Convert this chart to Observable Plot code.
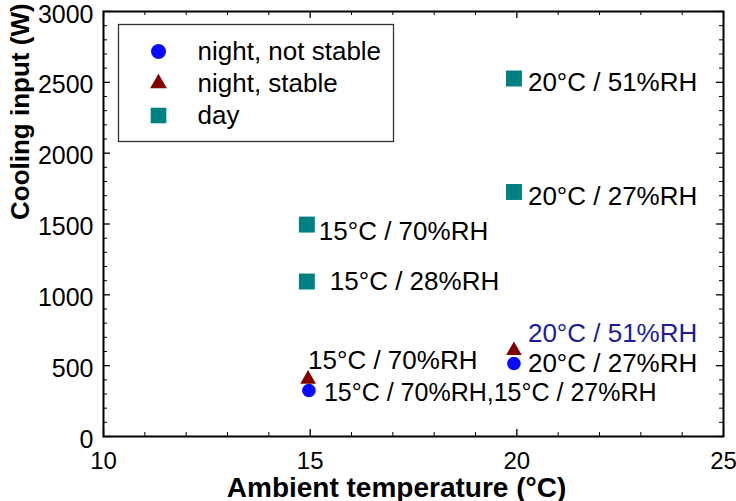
<!DOCTYPE html>
<html><head><meta charset="utf-8">
<script src="https://cdn.jsdelivr.net/npm/d3@7"></script>
<script src="https://cdn.jsdelivr.net/npm/@observablehq/plot@0.6"></script>
<style>body{margin:0;background:#fff}</style>
</head><body><div id="chart"></div>
<script>
// ---- data ----
const seriesNames = ["night, not stable", "night, stable", "day"];

const notStableTemp = [14.97, 19.93];
const notStableInput = [325, 515];
const notStableLabels = ["15°C / 70%RH,15°C / 27%RH", "20°C / 27%RH"];

const stableTemp = [14.95, 19.93];
const stableInput = [405, 607];
const stableLabels = ["15°C / 70%RH", "20°C / 51%RH"];

const dayTemp = [14.92, 14.92, 19.93, 19.93];
const dayInput = [1496, 1094, 2527, 1726];
const dayLabels = ["15°C / 70%RH", "15°C / 28%RH", "20°C / 51%RH", "20°C / 27%RH"];

const xTicks = [10, 15, 20, 25];
const yTicks = [0, 500, 1000, 1500, 2000, 2500, 3000];
const xTitle = "Ambient temperature (°C)";
const yTitle = "Cooling input (W)";

// ---- layout / style ----
const W = 736, H = 501, mL = 103, mR = 13, mT = 11, mB = 65;
const innerW = W - mL - mR, innerH = H - mT - mB;
const xMinor = d3.range(10, 25.001, 1).filter(v => !xTicks.includes(v));
const yMinor = d3.range(0, 3000.001, 100).filter(v => !yTicks.includes(v));

const series = [
  {temp: notStableTemp, input: notStableInput, labels: notStableLabels, symbol: "circle", fill: "#0a0aff", r: 6.8, legR: 7.5,
   offsets: [[15, 3], [14, 0]], labelColors: ["#000", "#000"], labelSizes: [25, 26]},
  {temp: stableTemp, input: stableInput, labels: stableLabels, symbol: "triangle", fill: "#800000", r: 5.8, legR: 6.2,
   offsets: [[0, -18], [14, -17]], labelColors: ["#000", "#1c1c99"], labelSizes: [26, 26]},
  {temp: dayTemp, input: dayInput, labels: dayLabels, symbol: "square", fill: "#008080", r: 9, legR: 8.8,
   offsets: [[12, 7], [23, 0], [14, 4], [14, 5]], labelColors: ["#000", "#000", "#000", "#000"], labelSizes: [26, 26, 26, 26]}
];
const legendRows = [40, 72, 104];

const marks = [];
// ticks (inside, all four sides)
marks.push(Plot.tickX(xTicks, {x: d => d, insetTop: innerH - 7, stroke: "black", strokeWidth: 1.3}));
marks.push(Plot.tickX(xTicks, {x: d => d, insetBottom: innerH - 7, stroke: "black", strokeWidth: 1.3}));
marks.push(Plot.tickX(xMinor, {x: d => d, insetTop: innerH - 4, stroke: "black", strokeWidth: 1}));
marks.push(Plot.tickX(xMinor, {x: d => d, insetBottom: innerH - 4, stroke: "black", strokeWidth: 1}));
marks.push(Plot.tickY(yTicks, {y: d => d, insetRight: innerW - 7, stroke: "black", strokeWidth: 1.3}));
marks.push(Plot.tickY(yTicks, {y: d => d, insetLeft: innerW - 7, stroke: "black", strokeWidth: 1.3}));
marks.push(Plot.tickY(yMinor, {y: d => d, insetRight: innerW - 4, stroke: "black", strokeWidth: 1}));
marks.push(Plot.tickY(yMinor, {y: d => d, insetLeft: innerW - 4, stroke: "black", strokeWidth: 1}));

marks.push(Plot.axisX({ticks: xTicks, tickSize: 0, tickPadding: 15, fontSize: 24, label: null}));
marks.push(Plot.axisY({ticks: yTicks, tickSize: 0, tickPadding: 10, dy: 3, fontSize: 25, label: null, tickFormat: d3.format("d")}));
marks.push(Plot.frame({stroke: "black", strokeWidth: 2}));

// data points + labels
series.forEach(s => {
  const rows = s.temp.map((t, i) => ({t, v: s.input[i], label: s.labels[i], i}));
  marks.push(Plot.dot(rows, {x: "t", y: "v", symbol: s.symbol, r: s.r, fill: s.fill, stroke: "none"}));
  rows.forEach(d => {
    const [dx, dy] = s.offsets[d.i];
    marks.push(Plot.text([d], {x: "t", y: "v", text: "label", textAnchor: "start", dx, dy,
      fontSize: s.labelSizes[d.i], fill: s.labelColors[d.i]}));
  });
});

// legend box
marks.push(Plot.frame({insetLeft: 15, insetTop: 13, insetRight: innerW - 290, insetBottom: innerH - 130,
  stroke: "#333", strokeWidth: 1.3, fill: "white"}));
series.forEach((s, k) => {
  marks.push(Plot.dot([0], {frameAnchor: "top-left", dx: 55, dy: legendRows[k], symbol: s.symbol, r: s.legR, fill: s.fill, stroke: "none"}));
  marks.push(Plot.text([seriesNames[k]], {frameAnchor: "top-left", dx: 94, dy: legendRows[k], textAnchor: "start", lineAnchor: "middle", fontSize: 26, fill: "#000"}));
});

// axis titles
marks.push(Plot.text([xTitle], {frameAnchor: "bottom", dx: -17, dy: 60, lineAnchor: "bottom", fontWeight: "bold", fontSize: 28, fill: "#000"}));
marks.push(Plot.text([yTitle], {frameAnchor: "left", rotate: -90, dx: -83, dy: -4, fontWeight: "bold", fontSize: 26, fill: "#000"}));

const chart = Plot.plot({
  width: W, height: H,
  marginLeft: mL, marginRight: mR, marginTop: mT, marginBottom: mB,
  x: {domain: [10, 25]},
  y: {domain: [0, 3000]},
  style: {fontFamily: "'Liberation Sans', Arial, Helvetica, sans-serif", background: "white", color: "black", overflow: "visible"},
  marks
});
document.getElementById("chart").appendChild(chart);
</script>
</body></html>
